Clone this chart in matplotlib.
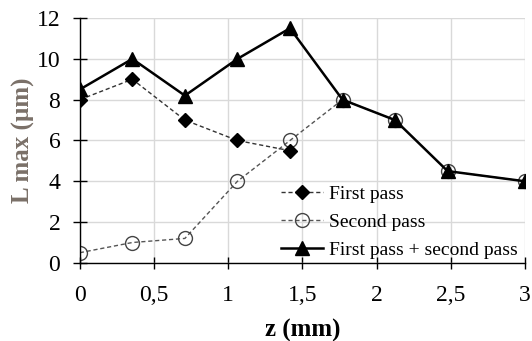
import matplotlib.pyplot as plt

z_first = [0, 0.354, 0.708, 1.062, 1.416]
first_pass = [8, 9, 7, 6, 5.5]

z_all = [0, 0.354, 0.708, 1.062, 1.416, 1.77, 2.124, 2.478, 3.0]
second_pass = [0.5, 1.0, 1.2, 4.0, 6.0, 8.0, 7.0, 4.5, 4.0]
both_passes = [8.5, 10, 8.2, 10, 11.5, 8, 7, 4.5, 4]

xticks = [0, 0.5, 1, 1.5, 2, 2.5, 3]
xticklabels = ["0", "0,5", "1", "1,5", "2", "2,5", "3"]
yticks = [0, 2, 4, 6, 8, 10, 12]

plt.rcParams['font.family'] = ['Liberation Serif', 'DejaVu Serif']

fig = plt.figure(figsize=(5.32, 3.41), dpi=100)
ax = fig.add_axes([0.150, 0.229, 0.837, 0.718])

ax.plot(z_first, first_pass, color='#333333', linestyle='--', dashes=(3, 2), linewidth=1,
        marker='D', markersize=7, markerfacecolor='black', markeredgecolor='black',
        label='First pass', zorder=3)
ax.plot(z_all, second_pass, color='#555555', linestyle='--', dashes=(3, 2), linewidth=1,
        marker='o', markersize=10, markerfacecolor='none', markeredgecolor='#444444',
        label='Second pass', zorder=2)
ax.plot(z_all, both_passes, color='black', linestyle='-', linewidth=1.8,
        marker='^', markersize=10, markerfacecolor='black', markeredgecolor='black',
        label='First pass + second pass', zorder=4)

ax.set_xlim(0, 3)
ax.set_ylim(0, 12)
ax.set_xticks(xticks)
ax.set_xticklabels(xticklabels)
ax.set_yticks(yticks)
ax.tick_params(axis='both', labelsize=17, colors='black', width=1)
ax.tick_params(axis='y', direction='inout', length=10, pad=9)
ax.tick_params(axis='x', direction='inout', length=8, pad=12)
ax.grid(True, color='#d9d9d9', linewidth=1)
ax.set_axisbelow(True)
for s in ['top', 'right']:
    ax.spines[s].set_visible(False)
for s in ['left', 'bottom']:
    ax.spines[s].set_linewidth(1)
    ax.spines[s].set_color('black')

ax.set_xlabel('z (mm)', fontsize=18, fontweight='bold', labelpad=9)
ax.set_ylabel('L max (µm)', fontsize=18, fontweight='bold', color='#7a7068', labelpad=1)

ax.legend(loc='lower right', bbox_to_anchor=(1.01, -0.03), frameon=False, fontsize=14,
          handlelength=2.2, handletextpad=0.3, labelspacing=0.53, borderaxespad=0.2)

fig.savefig('out.png', dpi=100)
